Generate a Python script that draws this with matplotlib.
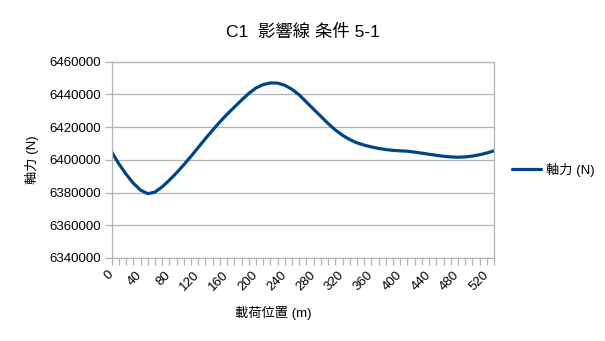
import matplotlib
matplotlib.use("Agg")
import matplotlib.pyplot as plt
from matplotlib.ticker import MultipleLocator, FuncFormatter
from matplotlib.transforms import ScaledTranslation

plt.rcParams['font.family'] = ['Liberation Sans', 'Noto Sans CJK JP', 'DejaVu Sans']

# Load position (m) and axial force (N)
positions = list(range(0, 540, 10))
axial_force = [
    6404800, 6397500, 6391200, 6385700, 6381500, 6379300, 6380300, 6383500,
    6387600, 6392100, 6397000, 6402200, 6407600, 6413000, 6418200, 6423200,
    6427900, 6432200, 6436500, 6440600, 6443900, 6446000, 6447000, 6446900,
    6445600, 6443100, 6439700, 6435300, 6430900, 6426600, 6422200, 6418300,
    6415000, 6412400, 6410400, 6409000, 6407900, 6407000, 6406300, 6405800,
    6405500, 6405300, 6404700, 6404100, 6403400, 6402800, 6402200, 6401800,
    6401600, 6401800, 6402300, 6403100, 6404200, 6405500,
]

title = "C1  影響線 条件 5-1"
series_name = "軸力 (N)"
x_title = "載荷位置 (m)"
y_title = "軸力 (N)"

W, H = 605, 341
fig = plt.figure(figsize=(W / 100, H / 100), dpi=100)
left, right, top, bottom = 111.7, 494.0, 61.7, 258.0
ax = fig.add_axes([left / W, 1 - bottom / H, (right - left) / W, (bottom - top) / H])

grid_c = "#b3b3b3"
line, = ax.plot(positions, axial_force, color="#004586", lw=2.3,
                solid_joinstyle="round", solid_capstyle="round", label=series_name)

ax.set_xlim(positions[0], positions[-1])
ax.set_ylim(6340000, 6460000)
ax.yaxis.set_major_locator(MultipleLocator(20000))
ax.yaxis.set_major_formatter(FuncFormatter(lambda v, p: f"{int(round(v))}"))
ax.xaxis.set_major_locator(MultipleLocator(40))
ax.xaxis.set_minor_locator(MultipleLocator(10))
ax.xaxis.set_major_formatter(FuncFormatter(lambda v, p: f"{int(round(v))}"))

ax.grid(axis="y", color=grid_c, lw=0.9)
ax.set_axisbelow(True)
for s in ax.spines.values():
    s.set_color(grid_c)
    s.set_linewidth(0.9)

ax.tick_params(axis="both", which="both", color=grid_c, width=0.9, length=5,
               labelsize=9.5, labelcolor="#000000")
ax.tick_params(axis="y", pad=3)
ax.tick_params(axis="x", pad=2)
shift = ScaledTranslation(4 / 100, -1 / 100, fig.dpi_scale_trans)
for lbl in ax.get_xticklabels():
    lbl.set_rotation(45)
    lbl.set_ha("right")
    lbl.set_va("top")
    lbl.set_transform(lbl.get_transform() + shift)

fig.text(303 / W, 1 - 32 / H, title, ha="center", va="center", fontsize=12.5)
fig.text(273 / W, 1 - 313 / H, x_title, ha="center", va="center", fontsize=9.5)
fig.text(32 / W, 1 - 160 / H, y_title, ha="center", va="center", fontsize=9.5, rotation=90)

fig.legend(handles=[line], loc="center left", bbox_to_anchor=(512 / W, 1 - 170 / H),
           frameon=False, fontsize=9.5, handlelength=2.2, handletextpad=0.4,
           borderaxespad=0, borderpad=0)

fig.savefig("out.png", dpi=100, facecolor="white")
